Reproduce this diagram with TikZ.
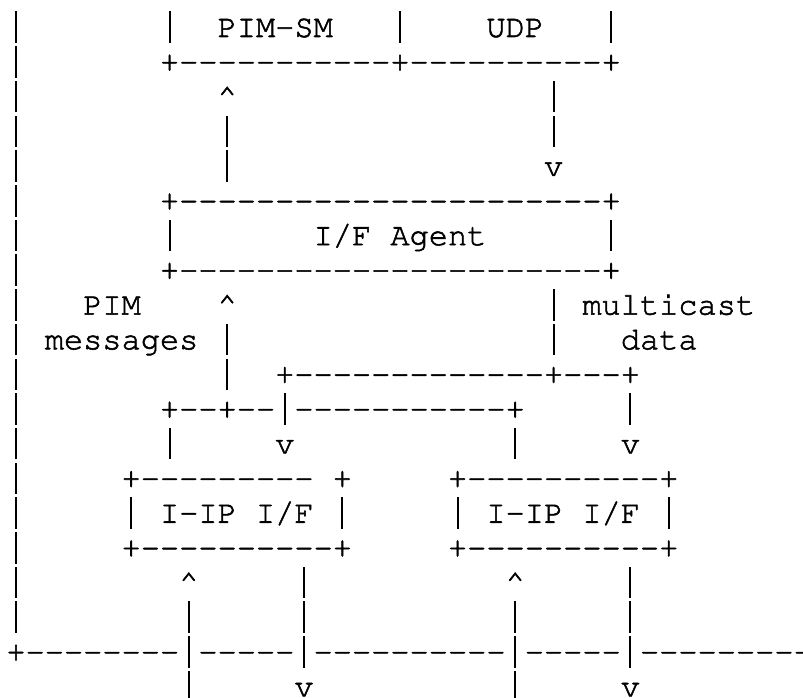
\documentclass[tikz,border=0pt]{standalone}
\usepackage[T1]{fontenc}
\usepackage{courier}

% n hyphens with no ligature between them
\newcommand\dashrun[1]{\ifnum#1>0 -\kern0pt\expandafter\dashrun\expandafter{\number\numexpr#1-1\relax}\fi}
% a bar as tall as the line, one column wide
\newcommand\vl{\makebox[19.2pt]{\rule[-6pt]{1.9pt}{31.5pt}}}
% one run of characters, at column #1 and line #2
\newcommand\asc[3]{\node[ascii] (c#1r#2) at (#1,#2) {#3};}

\tikzset{
  ascii/.style={anchor=base west,inner sep=0pt,outer sep=0pt,
    font=\fontsize{32}{34.7}\selectfont\ttfamily,xshift=6.4pt,yshift=-37pt,
    execute at begin node={\special{pdf:literal direct 2 Tr 0.55 w}}}
}

\begin{document}
\begin{tikzpicture}[x=19.2pt,y=-34.7pt]
    \useasboundingbox (0pt,0pt) rectangle (803pt,-698pt);
    \fill[white] (0pt,0pt) rectangle (803pt,-698pt);
    \foreach \r in {0,...,17} {\asc{0}{\r}{\vl}}
    % PIM-SM and UDP
    \asc{8}{0}{\vl}
    \asc{11}{0}{PIM-SM}
    \asc{20}{0}{\vl}
    \asc{25}{0}{UDP}
    \asc{31}{0}{\vl}
    \asc{8}{1}{+\dashrun{11}+\dashrun{10}+}
    \asc{11}{2}{\textasciicircum}
    \asc{28}{2}{\vl}
    \asc{11}{3}{\vl}
    \asc{28}{3}{\vl}
    \asc{11}{4}{\vl}
    \asc{28}{4}{v}
    % I/F Agent
    \asc{8}{5}{+\dashrun{22}+}
    \asc{8}{6}{\vl}
    \asc{16}{6}{I/F~Agent}
    \asc{31}{6}{\vl}
    \asc{8}{7}{+\dashrun{22}+}
    \asc{4}{8}{PIM}
    \asc{11}{8}{\textasciicircum}
    \asc{28}{8}{\vl}
    \asc{30}{8}{multicast}
    \asc{2}{9}{messages}
    \asc{11}{9}{\vl}
    \asc{28}{9}{\vl}
    \asc{32}{9}{data}
    \asc{11}{10}{\vl}
    \asc{14}{10}{+\dashrun{13}+\dashrun{3}+}
    \asc{8}{11}{+\dashrun{2}+\dashrun{2}\vl\dashrun{11}+}
    \asc{32}{11}{\vl}
    \asc{8}{12}{\vl}
    \asc{14}{12}{v}
    \asc{26}{12}{\vl}
    \asc{32}{12}{v}
    % the two I-IP I/F
    \asc{6}{13}{+\dashrun{9}~+}
    \asc{23}{13}{+\dashrun{10}+}
    \asc{6}{14}{\vl~I-IP~I/F~\vl}
    \asc{23}{14}{\vl~I-IP~I/F~\vl}
    \asc{6}{15}{+\dashrun{10}+}
    \asc{23}{15}{+\dashrun{10}+}
    \asc{9}{16}{\textasciicircum}
    \asc{15}{16}{\vl}
    \asc{26}{16}{\textasciicircum}
    \asc{32}{16}{\vl}
    \foreach \c in {9,15,26,32} {\asc{\c}{17}{\vl}}
    % the link
    \asc{0}{18}{+\dashrun{8}\vl\dashrun{5}\vl\dashrun{10}\vl\dashrun{5}\vl\dashrun{9}}
    \asc{9}{19}{\vl}
    \asc{15}{19}{v}
    \asc{26}{19}{\vl}
    \asc{32}{19}{v}
\end{tikzpicture}
\end{document}
